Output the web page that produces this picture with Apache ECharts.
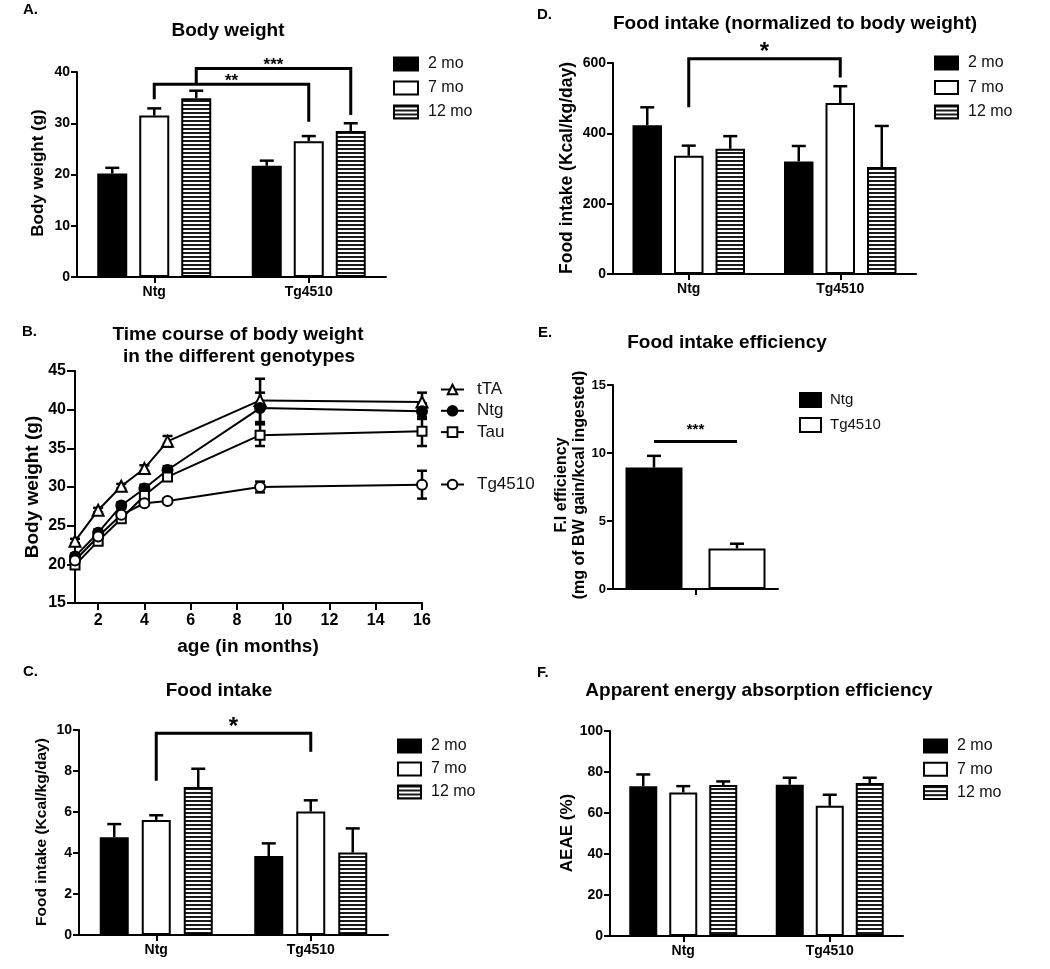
<!DOCTYPE html>
<html><head><meta charset="utf-8">
<script src="https://cdn.jsdelivr.net/npm/echarts@6/dist/echarts.min.js"></script>
<style>html,body{margin:0;padding:0;background:#fff}#c{width:1050px;height:969px}</style>
</head><body><div id="c"></div>
<script>
// ---------------- DATA ----------------
const groups = ['Ntg', 'Tg4510'];
const ageNames = ['2 mo', '7 mo', '12 mo'];

// A. Body weight (g)
const bw2 = [20.2, 21.7], bw2Err = [1.1, 1.0];
const bw7 = [31.5, 26.5], bw7Err = [1.4, 1.0];
const bw12 = [34.9, 28.5], bw12Err = [1.45, 1.5];
const bracketsA = [
  {from: [0, 1], to: [1, 1], top: 37.6, leftEnd: 34.7, rightEnd: 30.3, label: '**'},
  {from: [0, 2], to: [1, 2], top: 40.7, leftEnd: 37.6, rightEnd: 31.6, label: '***'}
];

// B. Time course of body weight
const agesMonths = [1, 2, 3, 4, 5, 9, 16];
const ageTicks = [2, 4, 6, 8, 10, 12, 14, 16];
const tTAw = [23.0, 27.0, 30.1, 32.4, 35.9, 41.2, 41.0];
const tTAwErr = [0.3, 0.3, 0.3, 0.4, 0.7, 2.8, 1.2];
const ntgW = [21.0, 24.1, 27.6, 29.8, 32.2, 40.2, 39.8];
const ntgWErr = [0.4, 0.4, 0.4, 0.5, 0.5, 2.0, 1.0];
const tauW = [19.9, 23.0, 25.9, 28.9, 31.3, 36.7, 37.2];
const tauWErr = [0.3, 0.3, 0.4, 0.4, 0.5, 1.4, 1.9];
const tgW = [20.5, 23.6, 26.4, 27.9, 28.2, 30.0, 30.3];
const tgWErr = [0.3, 0.3, 0.3, 0.3, 0.3, 0.7, 1.8];

// C. Food intake (Kcal/day)
const fi2 = [4.77, 3.85], fi2Err = [0.64, 0.62];
const fi7 = [5.61, 6.02], fi7Err = [0.23, 0.55];
const fi12 = [7.22, 4.02], fi12Err = [0.89, 1.18];
const bracketsC = [{from: [0, 1], to: [1, 1], top: 9.84, leftEnd: 7.53, rightEnd: 8.94, label: '*'}];

// D. Food intake normalized (Kcal/kg/day)
const fn2 = [423, 320], fn2Err = [51, 44];
const fn7 = [336, 486], fn7Err = [29, 48];
const fn12 = [356, 304], fn12Err = [36, 117];
const bracketsD = [{from: [0, 1], to: [1, 1], top: 612, leftEnd: 474, rightEnd: 559, label: '*'}];

// E. Food intake efficiency
const effNames = ['Ntg', 'Tg4510'];
const effMean = [8.93, 2.98];
const effErr = [0.86, 0.35];
const bracketsE = [{from: [0, 0], to: [0, 1], top: 10.84, leftEnd: 10.84, rightEnd: 10.84, label: '***'}];

// F. AEAE (%)
const ae2 = [73.1, 73.8], ae2Err = [5.7, 3.4];
const ae7 = [70.0, 63.5], ae7Err = [3.1, 5.4];
const ae12 = [73.6, 74.6], ae12Err = [1.8, 2.6];

// ---------------- STYLE ----------------
const FONT = '"Liberation Sans", Arial, Helvetica, sans-serif';
function stripeCanvas() {
  const c = document.createElement('canvas'); c.width = 4; c.height = 4;
  const g = c.getContext('2d');
  g.fillStyle = '#fff'; g.fillRect(0, 0, 4, 4);
  g.fillStyle = '#1a1a1a'; g.fillRect(0, 0, 4, 2);
  return c;
}
const STRIPE = {image: stripeCanvas(), repeat: 'repeat'};
const FILLS = ['#000', '#fff', STRIPE];

const grids = [
  {left: 77, top: 72, width: 309, height: 205},   // A
  {left: 75, top: 371, width: 347, height: 232},  // B
  {left: 79, top: 730, width: 309, height: 205},  // C
  {left: 613, top: 63, width: 303, height: 211},  // D
  {left: 613, top: 385, width: 165, height: 204}, // E
  {left: 610, top: 731, width: 293, height: 205}  // F
];

const LINE = {color: '#000', width: 2};
function catAxis(gi, cats) {
  return {type: 'category', gridIndex: gi, data: cats,
    axisLine: {show: true, lineStyle: LINE},
    axisTick: {show: true, alignWithLabel: true, length: 6, lineStyle: LINE},
    axisLabel: {color: '#000', fontWeight: 'bold', fontSize: 14, fontFamily: FONT, margin: 8},
    splitLine: {show: false}};
}
function valAxis(gi, min, max, interval, fs) {
  return {type: 'value', gridIndex: gi, min, max, interval,
    axisLine: {show: true, lineStyle: LINE},
    axisTick: {show: true, length: 6, lineStyle: LINE},
    axisLabel: {color: '#000', fontWeight: 'bold', fontSize: fs || 14, fontFamily: FONT, margin: 7},
    splitLine: {show: false}};
}

const series = [];
function barPanel(gi, names, means, errs, barW, gapPx, brackets, starSize, starDy) {
  const n = names.length;
  names.forEach((nm, si) => {
    series.push({type: 'bar', name: nm, xAxisIndex: gi, yAxisIndex: gi, data: means[si],
      barWidth: barW, barGap: (gapPx / barW * 100) + '%', silent: true, z: 2,
      itemStyle: {color: FILLS[si], borderColor: '#000', borderWidth: 2}});
  });
  const off = s => (s - (n - 1) / 2) * (barW + gapPx);
  const edata = [];
  means.forEach((arr, si) => arr.forEach((m, ci) => edata.push([ci, m, m + errs[si][ci], si])));
  series.push({type: 'custom', xAxisIndex: gi, yAxisIndex: gi, data: edata, z: 5, silent: true, clip: false,
    renderItem(params, api) {
      const ci = api.value(0), m = api.value(1), t = api.value(2), si = api.value(3);
      const p0 = api.coord([ci, m]), p1 = api.coord([ci, t]);
      const x = p0[0] + off(si);
      const st = {stroke: '#000', lineWidth: 2.5};
      return {type: 'group', children: [
        {type: 'line', shape: {x1: x, y1: p0[1], x2: x, y2: p1[1]}, style: st},
        {type: 'line', shape: {x1: x - 7, y1: p1[1], x2: x + 7, y2: p1[1]}, style: st}
      ]};
    }});
  if (brackets) {
    series.push({type: 'custom', xAxisIndex: gi, yAxisIndex: gi, silent: true, clip: false, z: 6,
      data: brackets.map(b => [b.from[0], b.top]),
      renderItem(params, api) {
        const b = brackets[params.dataIndex];
        const L = api.coord([b.from[0], b.top]), R = api.coord([b.to[0], b.top]);
        const xl = L[0] + off(b.from[1]), xr = R[0] + off(b.to[1]);
        const yt = L[1];
        const yl = api.coord([b.from[0], b.leftEnd])[1], yr = api.coord([b.to[0], b.rightEnd])[1];
        const st = {stroke: '#000', lineWidth: 3, fill: null};
        return {type: 'group', children: [
          {type: 'polyline', shape: {points: [[xl, yl], [xl, yt], [xr, yt], [xr, yr]]}, style: st},
          {type: 'text', x: (xl + xr) / 2, y: yt - starDy,
            style: {text: b.label, fill: '#000', fontSize: starSize, fontWeight: 'bold', fontFamily: FONT,
              align: 'center', verticalAlign: 'middle', textAlign: 'center', textVerticalAlign: 'middle'}}
        ]};
      }});
  }
}

barPanel(0, ageNames, [bw2, bw7, bw12], [bw2Err, bw7Err, bw12Err], 30, 12, bracketsA, 17, 3);
barPanel(2, ageNames, [fi2, fi7, fi12], [fi2Err, fi7Err, fi12Err], 29, 13, bracketsC, 24, 6);
barPanel(3, ageNames, [fn2, fn7, fn12], [fn2Err, fn7Err, fn12Err], 29.5, 12, bracketsD, 24, 6);
barPanel(4, ['E:Ntg', 'E:Tg4510'], [[effMean[0]], [effMean[1]]], [[effErr[0]], [effErr[1]]], 57, 26, bracketsE, 15, 12);
barPanel(5, ageNames, [ae2, ae7, ae12], [ae2Err, ae7Err, ae12Err], 28, 12, null, 0, 0);

// Panel B lines
const lineDefs = [
  {name: 'tTA', vals: tTAw, err: tTAwErr, symbol: 'triangle', size: 11, fill: '#fff'},
  {name: 'Ntg', vals: ntgW, err: ntgWErr, symbol: 'circle', size: 10, fill: '#000'},
  {name: 'Tau', vals: tauW, err: tauWErr, symbol: 'rect', size: 9, fill: '#fff'},
  {name: 'Tg4510', vals: tgW, err: tgWErr, symbol: 'circle', size: 10, fill: '#fff'}
];
lineDefs.forEach(d => {
  series.push({type: 'line', name: d.name, xAxisIndex: 1, yAxisIndex: 1, silent: true, z: 4,
    data: agesMonths.map((a, i) => [a, d.vals[i]]),
    symbol: d.symbol, symbolSize: d.size, showAllSymbol: true,
    lineStyle: {color: '#000', width: 2},
    itemStyle: {color: d.fill, borderColor: '#000', borderWidth: 2}});
  series.push({type: 'custom', xAxisIndex: 1, yAxisIndex: 1, silent: true, clip: false, z: 3,
    data: agesMonths.map((a, i) => [a, d.vals[i], d.err[i]]),
    renderItem(params, api) {
      const x = api.value(0), y = api.value(1), e = api.value(2);
      const pt = api.coord([x, y + e]), pb = api.coord([x, y - e]);
      const st = {stroke: '#000', lineWidth: 2.5};
      return {type: 'group', children: [
        {type: 'line', shape: {x1: pt[0], y1: pt[1], x2: pb[0], y2: pb[1]}, style: st},
        {type: 'line', shape: {x1: pt[0] - 5, y1: pt[1], x2: pt[0] + 5, y2: pt[1]}, style: st},
        {type: 'line', shape: {x1: pb[0] - 5, y1: pb[1], x2: pb[0] + 5, y2: pb[1]}, style: st}
      ]};
    }});
});

const xAxes = [
  catAxis(0, groups),
  {type: 'value', gridIndex: 1, min: 1, max: 16,
    axisLine: {show: true, lineStyle: LINE},
    axisTick: {show: true, length: 7, lineStyle: LINE, customValues: ageTicks},
    axisLabel: {color: '#000', fontWeight: 'bold', fontSize: 16, fontFamily: FONT, margin: 10, customValues: ageTicks},
    splitLine: {show: false}},
  catAxis(2, groups),
  catAxis(3, groups),
  catAxis(4, ['']),
  catAxis(5, groups)
];
const bAxisY = valAxis(1, 15, 45, 5, 16); bAxisY.axisTick.length = 8; bAxisY.axisLabel.margin = 9;
const yAxes = [
  valAxis(0, 0, 40, 10),
  bAxisY,
  valAxis(2, 0, 10, 2),
  valAxis(3, 0, 600, 200),
  valAxis(4, 0, 15, 5, 13),
  valAxis(5, 0, 100, 20)
];

function legendBox(left, top, gap, fs, w, h, names, pad, fmt, icon) {
  const l = {orient: 'vertical', left, top, itemGap: gap, itemWidth: w, itemHeight: h, data: names,
    selectedMode: false, padding: 0,
    textStyle: {color: '#111', fontSize: fs, fontFamily: FONT, padding: [0, 0, 0, pad]}};
  if (icon) l.icon = icon;
  if (fmt) l.formatter = fmt;
  return l;
}
const legends = [
  legendBox(393, 56, 8, 16, 24, 13, ageNames, 5, null, 'rect'),
  legendBox(397, 738, 7, 16, 23, 13, ageNames, 5, null, 'rect'),
  legendBox(934, 55, 8.5, 16, 23, 13, ageNames, 5, null, 'rect'),
  legendBox(923, 738, 7.3, 16, 23, 13, ageNames, 5, null, 'rect'),
  legendBox(799, 392, 9, 15, 21, 14, ['E:Ntg', 'E:Tg4510'], 4, n => n.slice(2), 'rect'),
  legendBox(440, 381, 4.3, 17, 23, 12, ['tTA', 'Ntg', 'Tau'], 8),
  legendBox(440, 476, 4, 17, 23, 12, ['Tg4510'], 8)
];

// text labels (titles, panel letters, axis names)
function txt(t, x, y, fs, opts) {
  opts = opts || {};
  return {type: 'text', x, y, rotation: opts.rot ? Math.PI / 2 : 0, silent: true, z: 10,
    style: {text: t, fill: '#000', fontSize: fs, fontWeight: 'bold', fontFamily: FONT,
      align: opts.align || 'center', textAlign: opts.align || 'center',
      verticalAlign: 'middle', textVerticalAlign: 'middle', lineHeight: opts.lh}};
}
const graphics = [
  txt('A.', 23, 10, 15, {align: 'left'}),
  txt('B.', 22, 332, 15, {align: 'left'}),
  txt('C.', 23, 672, 15, {align: 'left'}),
  txt('D.', 537, 15, 15, {align: 'left'}),
  txt('E.', 538, 333, 15, {align: 'left'}),
  txt('F.', 537, 673, 15, {align: 'left'}),
  txt('Body weight', 228, 31, 19),
  txt('Time course of body weight', 238, 335, 19),
  txt('in the different genotypes', 239, 357, 19),
  txt('Food intake', 219, 691, 19),
  txt('Food intake (normalized to body weight)', 795, 24, 19),
  txt('Food intake efficiency', 727, 343, 19),
  txt('Apparent energy absorption efficiency', 759, 691, 19),
  txt('Body weight (g)', 38, 173, 17, {rot: true}),
  txt('Body weight (g)', 33, 487, 19, {rot: true}),
  txt('age (in months)', 248, 647, 19),
  txt('Food intake (Kcal/kg/day)', 42, 832, 15.5, {rot: true}),
  txt('Food intake (Kcal/kg/day)', 567, 168, 17.5, {rot: true}),
  txt('F.I efficiency\n(mg of BW gain/kcal ingested)', 571, 485, 16, {rot: true, lh: 18}),
  txt('AEAE (%)', 567, 833, 17, {rot: true})
];

const chart = echarts.init(document.getElementById('c'), null, {renderer: 'canvas'});
chart.setOption({
  animation: false,
  backgroundColor: '#fff',
  grid: grids,
  xAxis: xAxes,
  yAxis: yAxes,
  legend: legends,
  series,
  graphic: graphics
});
</script></body></html>
